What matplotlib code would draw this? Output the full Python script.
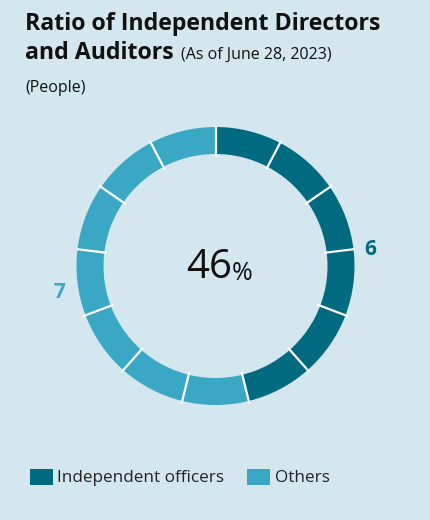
import matplotlib
matplotlib.use("Agg")
import matplotlib.pyplot as plt
import numpy as np

categories = ["Independent officers", "Others"]
counts = [6, 7]
colors = ["#006a80", "#3aa8c4"]
value_labels = ["6", "7"]
center_label = "46"

BG = "#d4e6ee"
W, H = 430, 520
fig = plt.figure(figsize=(W / 100, H / 100), dpi=100, facecolor=BG)
plt.rcParams["font.family"] = ["Open Sans", "DejaVu Sans"]

# one ring segment per person
seg_colors = []
for c, n in zip(colors, counts):
    seg_colors += [c] * n

cx, cy, r = 215.5, 266, 139
ring_w = 27 / 139
ax = fig.add_axes([(cx - r) / W, (H - cy - r) / H, 2 * r / W, 2 * r / H])
ax.set_facecolor(BG)
wedges, _ = ax.pie([1] * len(seg_colors), colors=seg_colors, startangle=90,
                   counterclock=False, radius=1.0,
                   wedgeprops=dict(width=ring_w, edgecolor="none", linewidth=0))
# white separators between segments
for w in wedges:
    a = np.deg2rad(w.theta1)
    ax.plot([(1 - ring_w - 0.02) * np.cos(a), 1.02 * np.cos(a)],
            [(1 - ring_w - 0.02) * np.sin(a), 1.02 * np.sin(a)],
            color="white", lw=1.6, solid_capstyle="butt")
ax.set_xlim(-1, 1)
ax.set_ylim(-1, 1)
ax.set_aspect("equal")
ax.axis("off")

def fx(x):
    return x / W

def fy(y):
    return 1 - y / H

# titles
fig.text(fx(25), fy(24), "Ratio of Independent Directors", fontsize=16.7, fontweight="bold",
         color="#111111", va="center", ha="left")
t2 = fig.text(fx(25), fy(53), "and Auditors", fontsize=16.7, fontweight="bold",
              color="#111111", va="center", ha="left")
fig.canvas.draw()
bb = t2.get_window_extent()
fig.text((bb.x1 + 7) / W, fy(55), "(As of June 28, 2023)", fontsize=11.5, color="#111111",
         va="center", ha="left")
fig.text(fx(25), fy(88), "(People)", fontsize=11.5, color="#111111", va="center", ha="left")

# value labels beside the ring
fig.text(fx(370), fy(249), value_labels[0], fontsize=15, fontweight="bold",
         color=colors[0], va="center", ha="center")
fig.text(fx(59), fy(293), value_labels[1], fontsize=15, fontweight="bold",
         color=colors[1], va="center", ha="center")

# center percentage
fig.text(fx(232), fy(268), center_label, fontsize=29, color="#111111",
         va="center", ha="right")
fig.text(fx(232), fy(274), "%", fontsize=18, color="#111111", va="center", ha="left")

# legend
for lab, c, x0, tx in zip(categories, colors, [30, 247], [57, 275]):
    fig.patches.append(plt.Rectangle((fx(x0), fy(485)), 23 / W, 16 / H,
                                     transform=fig.transFigure, facecolor=c,
                                     edgecolor="none"))
    fig.text(fx(tx), fy(478), lab, fontsize=12.3, color="#222222", va="center", ha="left")

fig.savefig("out.png", dpi=100, facecolor=BG)
